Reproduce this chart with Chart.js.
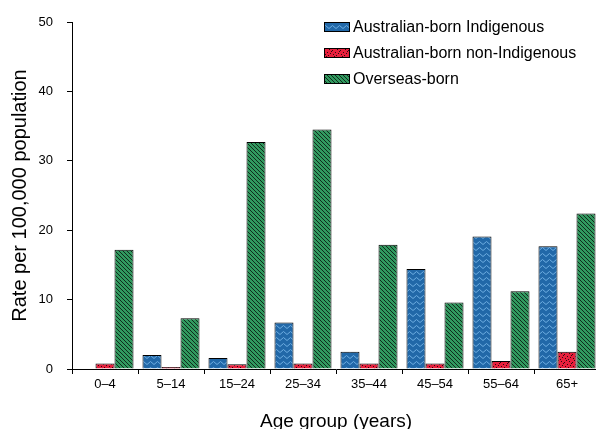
<!DOCTYPE html>
<html>
<head>
<meta charset="utf-8">
<script src="https://cdn.jsdelivr.net/npm/chart.js@4.4.1/dist/chart.umd.min.js"></script>
<style>
  html, body { margin: 0; padding: 0; background: #fff; overflow: hidden; }
  #wrap { width: 596px; height: 429px; overflow: hidden; }
</style>
</head>
<body>
<div id="wrap"><canvas id="myChart" width="604" height="436"></canvas></div>
<script>
/* DATA */
const ageGroups = ['0–4', '5–14', '15–24', '25–34', '35–44', '45–54', '55–64', '65+'];
const indigenous = [0, 2.0, 1.6, 6.7, 2.5, 14.4, 19.1, 17.7];
const nonIndigenous = [0.8, 0.3, 0.7, 0.8, 0.8, 0.8, 1.15, 2.5];
const overseas = [17.2, 7.3, 32.7, 34.5, 17.9, 9.6, 11.2, 22.4];
const yMin = 0, yMax = 50, yStep = 10;

/* PATTERNS */
function makePattern(w, h, draw){
    const c = document.createElement('canvas')
    c.width = w; c.height = h
    const g = c.getContext('2d')
    draw(g, w, h)
    return g.createPattern(c, 'repeat')
}

const bluePattern = makePattern(7, 6, (g, w, h) => {
    g.fillStyle = '#2168a8'
    g.fillRect(0, 0, w, h)
    g.strokeStyle = '#6eaee2'
    g.lineWidth = 1
    g.beginPath()
    g.moveTo(0, 4.5); g.lineTo(3.5, 1.5); g.lineTo(7, 4.5)
    g.stroke()
})

const redPattern = makePattern(8, 8, (g, w, h) => {
    g.fillStyle = '#e81f3c'
    g.fillRect(0, 0, w, h)
    g.fillStyle = '#2a0a0e'
    const dots = [[1,1],[4,2],[6,0],[2,5],[5,6],[7,4],[0,7],[3,3]]
    dots.forEach(d => g.fillRect(d[0], d[1], 1, 1))
})

const greenPattern = makePattern(4, 4, (g, w, h) => {
    g.fillStyle = '#31995f'
    g.fillRect(0, 0, w, h)
    g.strokeStyle = '#0b1f14'
    g.lineWidth = 0.9
    g.beginPath()
    g.moveTo(-1, -1); g.lineTo(5, 5)
    g.moveTo(-1, 3); g.lineTo(1, 5)
    g.moveTo(3, -1); g.lineTo(5, 1)
    g.stroke()
})

/* LEGEND */
const legendBox = {
    id: 'legendBox',
    afterDraw(chart){
        const ctx = chart.ctx
        ctx.save()
        chart.data.datasets.forEach((ds, i) => {
            const y = 27 + i * 26
            ctx.fillStyle = ds.backgroundColor
            ctx.fillRect(324, y - 5, 26, 10)
            ctx.strokeStyle = '#000'
            ctx.lineWidth = 1
            ctx.strokeRect(324.5, y - 4.5, 25, 9)
            ctx.fillStyle = '#000'
            ctx.font = '16px "Liberation Sans", Arial, sans-serif'
            ctx.textBaseline = 'middle'
            ctx.textAlign = 'left'
            ctx.fillText(ds.label, 353, y + 0.5)
        })
        ctx.restore()
    }
}

/* CHART */
const font = '"Liberation Sans", Arial, sans-serif'
const ctx = document.getElementById('myChart').getContext('2d')
const myChart = new Chart(ctx, {
    type: 'bar',
    data: {
        labels: ageGroups,
        datasets: [
            { label: 'Australian-born Indigenous', data: indigenous, backgroundColor: bluePattern },
            { label: 'Australian-born non-Indigenous', data: nonIndigenous, backgroundColor: redPattern },
            { label: 'Overseas-born', data: overseas, backgroundColor: greenPattern }
        ]
    },
    options: {
        responsive: false,
        animation: false,
        devicePixelRatio: 1,
        layout: { padding: { top: 22, right: 4, left: 0, bottom: 0 } },
        datasets: {
            bar: {
                borderColor: '#000',
                borderWidth: 1,
                categoryPercentage: 0.864,
                barPercentage: 1
            }
        },
        plugins: {
            legend: { display: false },
            tooltip: { enabled: false }
        },
        scales: {
            x: {
                offset: true,
                afterFit: s => { s.height = 67 },
                border: { display: true, color: '#000', width: 1 },
                grid: { display: true, offset: true, drawOnChartArea: false, drawTicks: true, tickLength: 5, color: '#000' },
                ticks: { color: '#000', font: { family: font, size: 13 }, padding: 3, maxRotation: 0 },
                title: { display: true, text: 'Age group (years)', color: '#000', font: { family: font, size: 19 }, padding: { top: 0, bottom: 3 } }
            },
            y: {
                min: yMin,
                max: yMax,
                afterFit: s => { s.width = 72 },
                border: { display: true, color: '#000', width: 1 },
                grid: { display: true, drawOnChartArea: false, drawTicks: true, tickLength: 5, color: '#000' },
                ticks: { stepSize: yStep, color: '#000', font: { family: font, size: 13 }, padding: 14 },
                title: { display: true, text: 'Rate per 100,000 population', color: '#000', font: { family: font, size: 20 }, padding: { top: 8, bottom: 0 } }
            }
        }
    },
    plugins: [legendBox]
});
</script>
</body>
</html>
